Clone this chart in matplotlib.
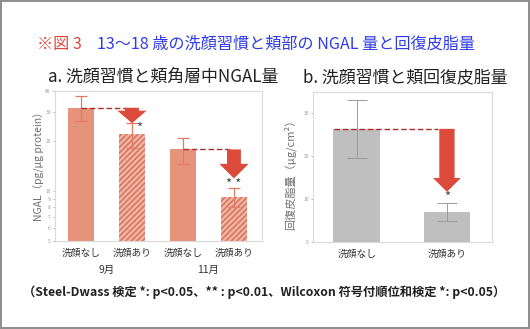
import numpy as np
import matplotlib
matplotlib.use("Agg")
import matplotlib.pyplot as plt
from matplotlib.patches import Rectangle
from matplotlib.ticker import FixedLocator, NullLocator

plt.rcParams['font.family'] = ['Noto Sans CJK JP', 'DejaVu Sans']
plt.rcParams['hatch.linewidth'] = 1.2

# a. NGAL (log scale)
groups_a = ['洗顔なし', '洗顔あり', '洗顔なし', '洗顔あり']
months_a = ['9月', '11月']
ngal = np.array([31.7, 21.9, 17.8, 9.24])
ngal_hi = np.array([37.3, 25.7, 20.8, 10.4])
ngal_lo = np.array([26.3, 18.2, 14.6, 8.04])
ngal_ticks = [5, 6, 7, 8, 9, 10, 20, 30, 40]
ngal_tip = [25.6, 11.9]
stars_a = ['*', '* *']

# b. recovered sebum
groups_b = ['洗顔なし', '洗顔あり']
sebum = np.array([26.4, 6.9])
sebum_hi = np.array([33.1, 9.0])
sebum_lo = np.array([19.7, 4.9])
sebum_ticks = [0, 10, 20, 30]
sebum_tip = 11.7

W, H = 530, 329
fig = plt.figure(figsize=(W / 100, H / 100), dpi=100)

def px(x, y):
    return x / W, 1 - y / H

# frame around the figure
fig.patches.append(Rectangle((0.002, 0.003), 0.996, 0.994, transform=fig.transFigure,
                             fill=False, ec='#8c8c8c', lw=1.4))

fig.text(*px(37, 44), '※図 3', color='#e0453c', fontsize=11.6, va='center', ha='left')
fig.text(*px(97, 44), '13～18 歳の洗顔習慣と頬部の NGAL 量と回復皮脂量',
         color='#2f3be8', fontsize=11.6, va='center', ha='left')

fig.text(*px(48, 77), 'a. 洗顔習慣と頬角層中NGAL量', fontsize=12.2, color='#222222',
         va='center', ha='left')
fig.text(*px(303, 77), 'b. 洗顔習慣と頬回復皮脂量', fontsize=12.2, color='#222222',
         va='center', ha='left')

salmon = '#e6937c'
arrow_red = '#dc4a3c'
dash_red = '#a8302a'

def style_axes(ax):
    for s in ax.spines.values():
        s.set_color('#dadada')
        s.set_linewidth(0.8)
    ax.tick_params(axis='y', labelsize=3.5, colors='#9a9a9a', length=1.5, width=0.5, pad=1.5)
    ax.tick_params(axis='x', labelsize=7, colors='#333333', length=0, pad=5)

def down_arrow(ax, x, top, tip, hw, hl, tw):
    ax.annotate('', xy=(x, tip), xytext=(x, top),
                arrowprops=dict(arrowstyle=f'simple,head_length={hl},head_width={hw},tail_width={tw}',
                                color=arrow_red, lw=0, shrinkA=0, shrinkB=0,
                                mutation_scale=1),
                zorder=5)

# ---- left chart
ax1 = fig.add_axes([55 / W, 1 - 241 / H, 207 / W, 150 / H])
x1 = np.arange(len(ngal))
hatch = [None, '//////', None, '//////']
for i in range(len(ngal)):
    if hatch[i]:
        ax1.bar(x1[i], ngal[i], width=0.51, color='#f1b7a6', edgecolor='#d9755f',
                hatch=hatch[i], lw=0, zorder=2)
    else:
        ax1.bar(x1[i], ngal[i], width=0.51, color=salmon, lw=0, zorder=2)
ax1.errorbar(x1, ngal, yerr=[ngal - ngal_lo, ngal_hi - ngal], fmt='none',
             ecolor='#e07a64', elinewidth=0.9, capsize=4, capthick=0.9, zorder=3)
ax1.set_yscale('log')
ax1.set_ylim(5, 40)
ax1.set_xlim(-0.51, 3.55)
ax1.yaxis.set_major_locator(FixedLocator(ngal_ticks))
ax1.yaxis.set_minor_locator(NullLocator())
ax1.set_yticklabels([str(t) for t in ngal_ticks])
ax1.set_xticks(x1)
ax1.set_xticklabels(groups_a)
style_axes(ax1)
for j, m in enumerate(months_a):
    xm = (x1[2 * j] + x1[2 * j + 1]) / 2
    ax1.text(xm, -0.195, m, transform=ax1.get_xaxis_transform(), ha='center', va='center',
             fontsize=7.5, color='#333333')

for j in range(2):
    a, b = 2 * j, 2 * j + 1
    ax1.plot([x1[a], x1[b] - 0.1], [ngal[a], ngal[a]], ls=(0, (4, 2)), color=dash_red,
             lw=1, zorder=4)
    down_arrow(ax1, x1[b], ngal[a], ngal_tip[j], hw=21, hl=9 + 1.5 * j, tw=10)
ax1.text(x1[1] + 0.14, 23.9, stars_a[0], fontsize=9.5, color='#444444', ha='center',
         va='center', zorder=6)
ax1.text(x1[3], 11.0, stars_a[1], fontsize=9.5, color='#444444', ha='center', va='center',
         zorder=6)

fig.text(*px(39, 164), 'NGAL（pg/µg protein）', rotation=90, fontsize=7.5, color='#707070',
         ha='center', va='center')

# ---- right chart
ax2 = fig.add_axes([313 / W, 1 - 242 / H, 179 / W, 150 / H])
x2 = np.arange(len(sebum))
ax2.bar(x2, sebum, width=0.52, color='#bfbfbf', lw=0, zorder=2)
ax2.errorbar(x2, sebum, yerr=[sebum - sebum_lo, sebum_hi - sebum], fmt='none',
             ecolor='#9a9a9a', elinewidth=0.7, capsize=7, capthick=0.7, zorder=3)
ax2.set_ylim(0, 35)
ax2.set_xlim(-0.486, 1.5)
ax2.set_yticks(sebum_ticks)
ax2.set_xticks(x2)
ax2.set_xticklabels(groups_b)
style_axes(ax2)
ax2.plot([-0.25, x2[1] - 0.1], [sebum[0], sebum[0]], ls=(0, (4, 2)), color=dash_red,
         lw=1, zorder=4)
down_arrow(ax2, x2[1], sebum[0], sebum_tip, hw=20, hl=10, tw=11)
ax2.text(x2[1], 10.4, '*', fontsize=9.5, color='#444444', ha='center', va='center', zorder=6)

fig.text(*px(290, 172), '回復皮脂量（µg/cm²）', rotation=90, fontsize=8, color='#707070',
         ha='center', va='center')

fig.text(*px(264, 292),
         '（Steel-Dwass 検定 *: p<0.05、** : p<0.01、Wilcoxon 符号付順位和検定 *: p<0.05）',
         fontsize=8.85, fontweight='bold', color='#222222', ha='center', va='center')

fig.savefig('out.png', dpi=100)
